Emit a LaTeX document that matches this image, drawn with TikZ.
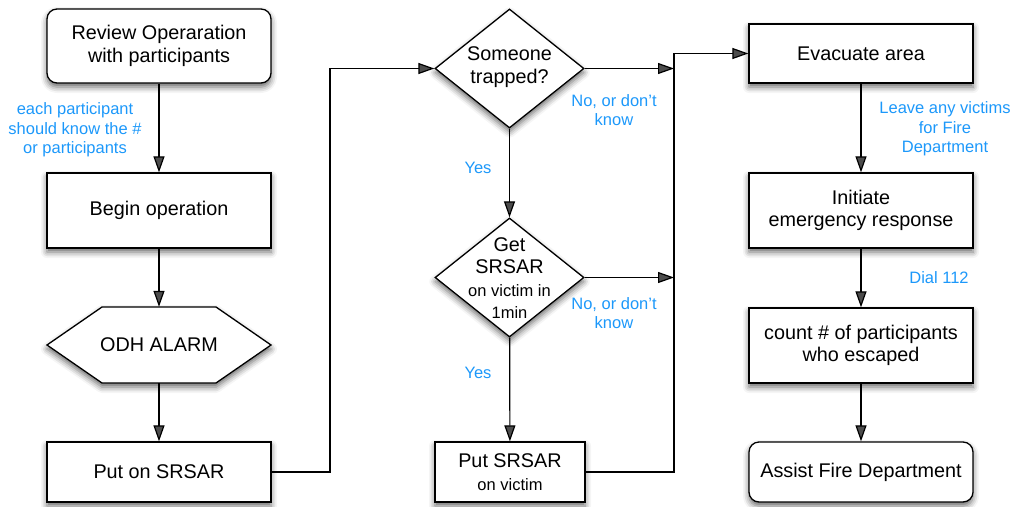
\documentclass[tikz,border=0pt]{standalone}
\usepackage{fontspec}
\setmainfont{Liberation Sans}
\usetikzlibrary{arrows.meta,shapes.geometric,shadows.blur}
\definecolor{lblue}{RGB}{28,152,250}
\newcommand{\smtxt}{\fontsize{16.5}{19}\selectfont}
\begin{document}
\begin{tikzpicture}[x=1pt,y=-1pt,
  shd/.style={blur shadow={shadow xshift=0pt, shadow yshift=-4pt, shadow blur radius=6pt, shadow opacity=60}},
  box/.style={draw=black, line width=1.3pt, fill=white, minimum width=224pt, inner sep=0pt, align=center,
    font=\fontsize{19.8}{22.5}\selectfont, shd},
  rbox/.style={box, rounded corners=10pt},
  hexs/.style={draw=black, line width=1.3pt, fill=white, line join=miter, shd},
  dia/.style={draw=black, shape=diamond, line width=1.3pt, fill=white, minimum width=149pt, minimum height=119pt, inner sep=0pt, shd},
  txt/.style={inner sep=0pt, align=center, font=\fontsize{19.8}{22.5}\selectfont},
  lbl/.style={text=lblue, font=\fontsize{16.5}{19.5}\selectfont, align=center, inner sep=0pt},
  arr/.style={line width=1.2pt, -{Triangle[length=16pt,width=11pt]}}
]
\useasboundingbox (0,0) rectangle (1011,506);

% left column
\node[rbox, minimum height=74pt] (rev) at (159,46) {Review Operaration\\with participants};
\node[box, minimum height=75pt] (beg) at (159,210.5) {Begin operation};
\path[hexs] (47,345) -- (102,307) -- (216,307) -- (271,345) -- (216,383) -- (102,383) -- cycle;
\node[txt, minimum width=224pt, minimum height=76pt] (odh) at (159,345) {ODH ALARM};
\node[box, minimum height=60pt] (put) at (159,472) {Put on SRSAR};

% middle column
\node[dia] (d1) at (509.5,68.5) {};
\node[txt] (d1t) at (509.5,67) {Someone\\trapped?};
\node[dia] (d2) at (509.5,277.5) {};
\node[txt] (d2t) at (509.5,278) {Get\\SRSAR\\\smtxt on victim in\\\smtxt 1min};
\node[box, minimum width=150pt, minimum height=60pt] (psv) at (510,472) {Put SRSAR\\\smtxt on victim};

% right column
\node[box, minimum height=59pt] (evac) at (861,53.5) {Evacuate area};
\node[box, minimum height=75pt] (init) at (861,210.5) {Initiate\\emergency response};
\node[box, minimum height=75pt] (cnt) at (861,345.5) {count \# of participants\\who escaped};
\node[rbox, minimum height=60pt] (fire) at (861,472) {Assist Fire Department};

% labels
\node[lbl] (l1) at (75,130) {each participant\\should know the \#\\or participants};
\node[lbl] (l2) at (478,168) {Yes};
\node[lbl] (l3) at (478,373) {Yes};
\node[lbl] (l4) at (614,110) {No, or don't\\know};
\node[lbl] (l5) at (614,313) {No, or don't\\know};
\node[lbl] (l6) at (945,129) {Leave any victims\\for Fire\\Department};
\node[lbl] (l7) at (939,278) {Dial 112};

% connectors
\coordinate (c1) at (330,68.5);
\coordinate (j1) at (674,68.5);
\coordinate (j2) at (674,277.5);
\coordinate (c2) at (674,53.5);
\draw[arr] (rev) -- (beg);
\draw[arr] (beg) -- (odh);
\draw[arr] (odh) -- (put);
\draw[arr] (put.east) -| (c1) -- (d1.west);
\draw[arr] (d1) -- (d2);
\draw[arr] (d2) -- (psv);
\draw[arr] (d1.east) -- (j1);
\draw[arr] (d2.east) -- (j2);
\draw[arr] (psv.east) -| (c2) -- (evac.west);
\draw[arr] (evac) -- (init);
\draw[arr] (init) -- (cnt);
\draw[arr] (cnt) -- (fire);
\end{tikzpicture}
\end{document}
